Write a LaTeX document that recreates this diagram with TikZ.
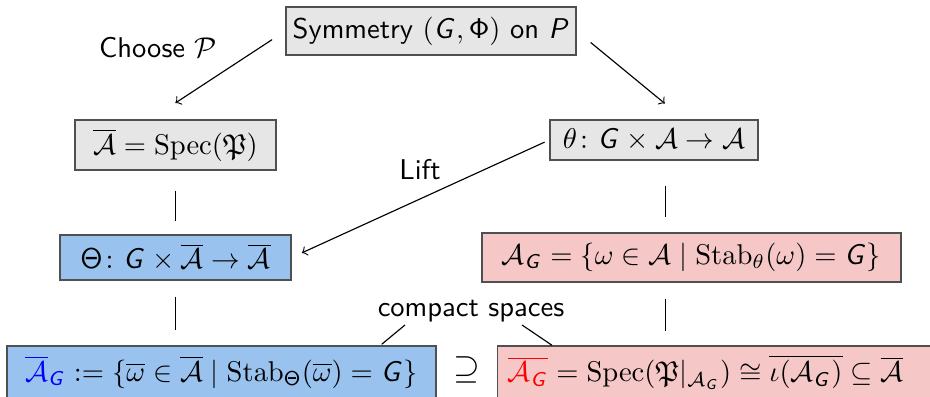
\documentclass[tikz,border=0pt]{standalone}
\usepackage{amsmath,amssymb}
\usetikzlibrary{calc}
\DeclareMathAlphabet{\mathsfit}{OT1}{cmss}{m}{sl}
\definecolor{boxgray}{RGB}{230,230,230}
\definecolor{boxblue}{RGB}{153,194,238}
\definecolor{boxpink}{RGB}{245,199,199}
\definecolor{edgegray}{RGB}{80,80,80}
\newcommand{\sG}{\mathsfit{G}}
\newcommand{\cA}{\mathcal{A}}
\newcommand{\bA}{\overline{\mathcal{A}}}
\begin{document}
\begin{tikzpicture}[x=0.35pt,y=-0.35pt,font=\sffamily,
  box/.style={draw=edgegray,line width=0.5pt,inner sep=0pt},
  link/.style={line width=0.4pt}]
\useasboundingbox (0,0) rectangle (930,397);
\node[box,fill=boxgray,minimum width=101.5pt,minimum height=16.8pt] (top) at (431,31) {Symmetry $(\sG,\mathsf{\Phi})$ on $\mathsfit{P}$};
\node[box,fill=boxgray,minimum width=70.35pt,minimum height=17.5pt] (abar) at (175.5,145) {$\bA=\mathrm{Spec}(\mathfrak{P})$};
\node[box,fill=boxgray,minimum width=72.8pt,minimum height=14pt] (theta) at (654,140) {$\theta\colon \sG\times\cA\to\cA$};
\node[box,fill=boxblue,minimum width=80.85pt,minimum height=15.75pt] (Theta) at (175.5,257.5) {$\mathsf{\Theta}\colon \sG\times\bA\to\bA$};
\node[box,fill=boxpink,minimum width=146.65pt,minimum height=17.15pt] (AG) at (691.5,257.5) {$\cA_{\sG}=\{\omega\in\cA\mid\mathrm{Stab}_\theta(\omega)=\sG\}$};
\node[box,fill=boxblue,minimum width=150.15pt,minimum height=18.2pt] (bl) at (221.5,372) {$\textcolor{blue}{\bA_{\sG}}:=\{\overline{\omega}\in\bA\mid\mathrm{Stab}_{\mathsf{\Theta}}(\overline{\omega})=\sG\}$};
\node[box,fill=boxpink,minimum width=154pt,minimum height=18.2pt,anchor=west,inner xsep=3.15pt,text width=147pt,align=left] (br) at (497,372) {$\textcolor{red}{\overline{\cA_{\sG}}}=\mathrm{Spec}(\mathfrak{P}|_{\cA_{\sG}})\cong\overline{\iota(\cA_{\sG})}\subseteq\bA$};
\node (sup) at (467,370) {\large$\supseteq$};
\node (choose) at (158,48) {Choose $\mathcal{P}$};
\node (lift) at (420,170) {Lift};
\node (cs) at (471,311) {compact spaces};
\coordinate (tr) at ($(theta.south)+(11.5,0)$);
\coordinate (ar) at ($(AG.south)+(-26,0)$);
\coordinate (csl) at ($(cs.center)+(-66,14)$);
\coordinate (csr) at ($(cs.center)+(51,14)$);
\coordinate (bll) at ($(bl.north east)+(-55,-1)$);
\coordinate (brl) at ($(br.north west)+(55,0)$);
\coordinate (ta) at ($(abar.north)+(-25,0)$);
\coordinate (tt) at ($(theta.north)+(30,0)$);
% arrows
\draw[link,->,shorten <=5.5pt,shorten >=10.4pt] (top.west) -- (ta);
\draw[link,->,shorten <=6.3pt,shorten >=8.7pt] (top.east) -- (tt);
\draw[link,->,shorten <=1.8pt,shorten >=3.9pt] (theta.west) -- (Theta.east);
% plain lines
\draw[link,shorten <=7pt,shorten >=4.55pt] (abar.south) -- (abar.south |- Theta.north);
\draw[link,shorten <=8.75pt,shorten >=5.25pt] (tr) -- (tr |- AG.north);
\draw[link,shorten <=5.6pt,shorten >=5.25pt] (Theta.south) -- (Theta.south |- bl.north);
\draw[link,shorten <=5.6pt,shorten >=4.9pt] (ar) -- (ar |- br.north);
\draw[link] (csl) -- (bll);
\draw[link] (csr) -- (brl);
\end{tikzpicture}
\end{document}
